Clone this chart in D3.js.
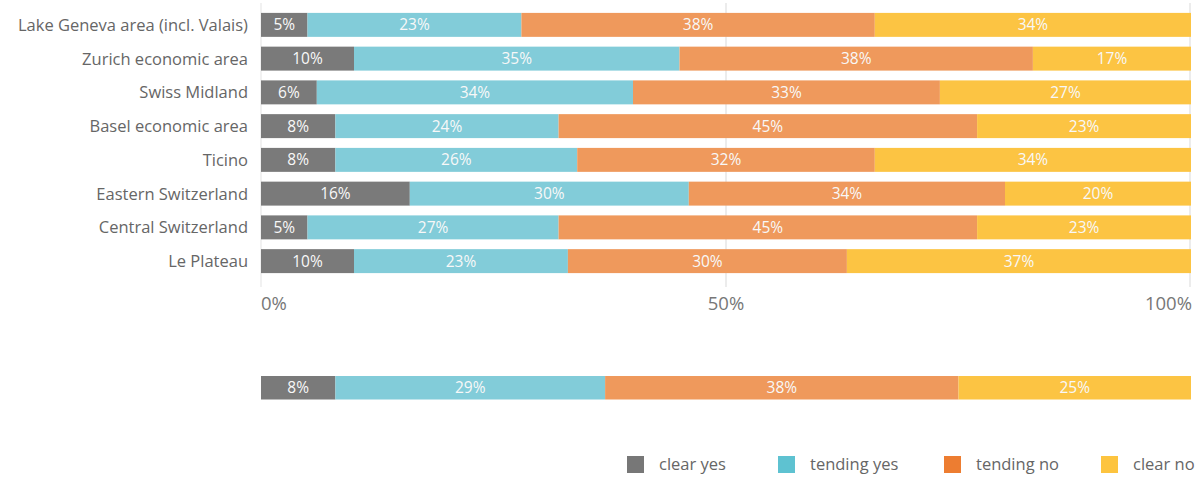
<!DOCTYPE html>
<html>
<head>
<meta charset="utf-8">
<script src="https://cdn.jsdelivr.net/npm/d3@7/dist/d3.min.js"></script>
<style>
  html, body { margin: 0; padding: 0; background: #fff; }
  svg { display: block; font-family: "Open Sans", "Noto Sans", sans-serif; }
</style>
</head>
<body>
<svg id="chart" width="1198" height="479"></svg>
<script>
// Regions and answer shares (percent)
const regions = [
  "Lake Geneva area (incl. Valais)",
  "Zurich economic area",
  "Swiss Midland",
  "Basel economic area",
  "Ticino",
  "Eastern Switzerland",
  "Central Switzerland",
  "Le Plateau"
];
const clearYes    = [5, 10, 6, 8, 8, 16, 5, 10];
const tendingYes  = [23, 35, 34, 24, 26, 30, 27, 23];
const tendingNo   = [38, 38, 33, 45, 32, 34, 45, 30];
const clearNo     = [34, 17, 27, 23, 34, 20, 23, 37];

// Overall result
const totalValues = [8, 29, 38, 25];

const seriesNames = ["clear yes", "tending yes", "tending no", "clear no"];
const tickValues = [0, 50, 100];
const tickLabels = ["0%", "50%", "100%"];

const barColors    = ["#7a7a7a", "#82ccd9", "#ef995c", "#fcc443"];
const legendColors = ["#777777", "#5ec2d1", "#ed7d31", "#fdc43f"];

const svg = d3.select("#chart");

const x = d3.scaleLinear().domain([0, 100]).range([261, 1191]);
const y = d3.scaleBand().domain(regions).range([8, 278]).paddingInner(0.29).paddingOuter(0.145);

// Light vertical guides at 0%, 50%, 100%
svg.append("g").selectAll("line")
  .data(tickValues)
  .join("line")
  .attr("x1", d => x(d) + (d === 100 ? -1 : 0))
  .attr("x2", d => x(d) + (d === 100 ? -1 : 0))
  .attr("y1", 3)
  .attr("y2", 287)
  .attr("stroke", "#ececec")
  .attr("stroke-width", d => d === 0 ? 1.5 : 2);

// Stack the four answer groups per region
const seriesArrays = [clearYes, tendingYes, tendingNo, clearNo];
const rows = regions.map((r, i) => {
  const o = { region: r };
  seriesNames.forEach((s, k) => { o[s] = seriesArrays[k][i]; });
  return o;
});
const stacked = d3.stack().keys(seriesNames)(rows);

const barsG = svg.append("g");
stacked.forEach((layer, k) => {
  const g = barsG.append("g");
  g.selectAll("rect")
    .data(layer)
    .join("rect")
    .attr("x", d => x(d[0]))
    .attr("y", d => y(d.data.region))
    .attr("width", d => x(d[1]) - x(d[0]))
    .attr("height", y.bandwidth())
    .attr("fill", barColors[k]);
  g.selectAll("text")
    .data(layer)
    .join("text")
    .attr("x", d => (x(d[0]) + x(d[1])) / 2)
    .attr("y", d => y(d.data.region) + y.bandwidth() / 2)
    .attr("dy", "0.36em")
    .attr("text-anchor", "middle")
    .attr("fill", "#f8f8f8")
    .attr("font-size", 15.5)
    .text(d => (d[1] - d[0]) + "%");
});

// Region labels
svg.append("g").selectAll("text")
  .data(regions)
  .join("text")
  .attr("x", 248)
  .attr("y", d => y(d) + y.bandwidth() / 2)
  .attr("dy", "0.36em")
  .attr("text-anchor", "end")
  .attr("fill", "#666")
  .attr("font-size", 16.5)
  .text(d => d);

// Axis tick labels
svg.append("g").selectAll("text")
  .data(tickValues)
  .join("text")
  .attr("x", d => x(d) + (d === 0 ? 0 : d === 100 ? 1 : 0))
  .attr("y", 303)
  .attr("dy", "0.36em")
  .attr("text-anchor", d => d === 0 ? "start" : d === 100 ? "end" : "middle")
  .attr("fill", "#777")
  .attr("font-size", 18.5)
  .text((d, i) => tickLabels[i]);

// Overall bar
const totalRow = {};
seriesNames.forEach((s, k) => { totalRow[s] = totalValues[k]; });
const totalStack = d3.stack().keys(seriesNames)([totalRow]);
const totalY = 376, totalH = 23.5;
const totalG = svg.append("g");
totalStack.forEach((layer, k) => {
  const d = layer[0];
  totalG.append("rect")
    .attr("x", x(d[0]))
    .attr("y", totalY)
    .attr("width", x(d[1]) - x(d[0]))
    .attr("height", totalH)
    .attr("fill", barColors[k]);
  totalG.append("text")
    .attr("x", (x(d[0]) + x(d[1])) / 2)
    .attr("y", totalY + totalH / 2)
    .attr("dy", "0.36em")
    .attr("text-anchor", "middle")
    .attr("fill", "#f8f8f8")
    .attr("font-size", 15.5)
    .text((d[1] - d[0]) + "%");
});

// Legend
const legendX = [627, 778, 944, 1101];
const legend = svg.append("g");
seriesNames.forEach((s, k) => {
  legend.append("rect")
    .attr("x", legendX[k])
    .attr("y", 456)
    .attr("width", 17)
    .attr("height", 17)
    .attr("fill", legendColors[k]);
  legend.append("text")
    .attr("x", legendX[k] + 32)
    .attr("y", 464.5)
    .attr("dy", "0.36em")
    .attr("fill", "#666")
    .attr("font-size", 16.5)
    .text(s);
});
</script>
</body>
</html>
